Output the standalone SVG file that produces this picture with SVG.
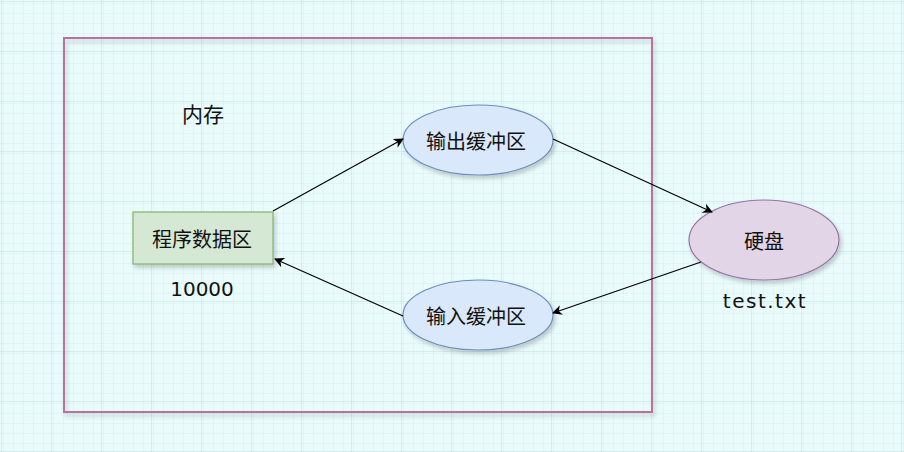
<svg xmlns="http://www.w3.org/2000/svg" width="904" height="452" viewBox="0 0 904 452">
<defs>
<pattern id="minor" width="10" height="10" patternUnits="userSpaceOnUse" x="2" y="2">
<path d="M10 0V10M0 10H10" fill="none" stroke="#d6eeee" stroke-width="1"/>
</pattern>
<pattern id="major" width="50" height="50" patternUnits="userSpaceOnUse" x="2" y="2">
<rect width="50" height="50" fill="url(#minor)"/>
<path d="M50 0V50M0 50H50" fill="none" stroke="#c5dede" stroke-width="1"/>
</pattern>
<filter id="sh" x="-10%" y="-10%" width="130%" height="130%">
<feDropShadow dx="2" dy="3" stdDeviation="2" flood-color="#000" flood-opacity="0.2"/>
</filter>
<marker id="arr" viewBox="0 0 10 10" refX="9" refY="5" markerWidth="10" markerHeight="10" markerUnits="userSpaceOnUse" orient="auto">
<path d="M0 0L10 5L0 10L3 5Z" fill="#000"/>
</marker>
</defs>
<style>
text{font-family:"Noto Sans CJK SC","Noto Sans",sans-serif;fill:#111;text-anchor:middle;dominant-baseline:central}
.lbl{font-size:20px}
.num{font-family:"DejaVu Sans","Noto Sans",sans-serif;font-size:20px}
.edge{fill:none;stroke:#000;stroke-width:1.2;marker-end:url(#arr)}
</style>
<rect width="904" height="452" fill="#e9fbfb"/>
<rect width="904" height="452" fill="url(#major)"/>
<g id="memory">
<rect x="64" y="38" width="588" height="374" fill="none" stroke="#b5739d" stroke-width="2" filter="url(#sh)"/>
<text x="203" y="113" style="font-size:21px">内存</text>
</g>
<g id="program">
<rect x="133" y="212" width="140" height="52" fill="#d5e8d4" stroke="#82b366" stroke-width="1.2" filter="url(#sh)"/>
<text class="lbl" x="202" y="238">程序数据区</text>
<text class="num" x="202" y="289">10000</text>
</g>
<g id="outbuf">
<ellipse cx="478" cy="140" rx="75" ry="35" fill="#dae8fc" stroke="#6c8ebf" stroke-width="1.2" filter="url(#sh)"/>
<text class="lbl" x="476" y="140">输出缓冲区</text>
</g>
<g id="inbuf">
<ellipse cx="478" cy="315" rx="75" ry="35" fill="#dae8fc" stroke="#6c8ebf" stroke-width="1.2" filter="url(#sh)"/>
<text class="lbl" x="476" y="315">输入缓冲区</text>
</g>
<g id="disk">
<ellipse cx="764" cy="240" rx="75" ry="40" fill="#e1d5e7" stroke="#9673a6" stroke-width="1.2" filter="url(#sh)"/>
<text class="lbl" x="764" y="240">硬盘</text>
<text class="num" x="765" y="301" style="letter-spacing:1.5px">test.txt</text>
</g>
<g id="edges">
<path class="edge" d="M273 211L403 139"/>
<path class="edge" d="M553 139L712 212"/>
<path class="edge" d="M701 262L553 313"/>
<path class="edge" d="M403 316L275 259"/>
</g>
</svg>
